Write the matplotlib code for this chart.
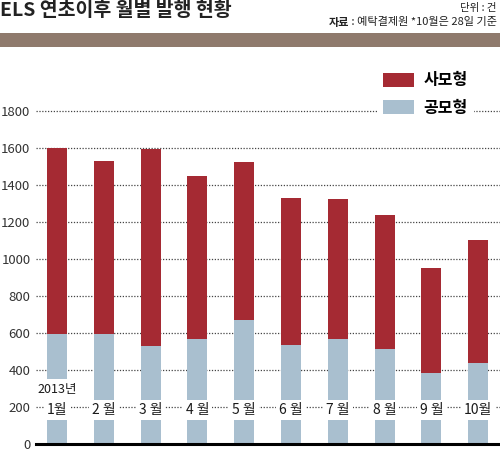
import matplotlib
matplotlib.use('Agg')
from matplotlib import pyplot as plt
from matplotlib.patches import Rectangle, Patch

plt.rcParams['font.family'] = ['Noto Sans CJK KR', 'DejaVu Sans']

# 데이터
months = ['1월', '2 월', '3 월', '4 월', '5 월', '6 월', '7 월', '8 월', '9 월', '10월']
total = [1600, 1530, 1595, 1450, 1525, 1330, 1325, 1240, 950, 1100]
public = [595, 595, 530, 567, 670, 535, 570, 512, 385, 440]
private = [t - p for t, p in zip(total, public)]
yticks = [0, 200, 400, 600, 800, 1000, 1200, 1400, 1600, 1800]

RED = '#a52a33'
BLUE = '#a9bfcf'
W, H = 500, 449

fig = plt.figure(figsize=(W / 100, H / 100), dpi=100)
fig.patch.set_facecolor('white')

# 축 위치 (픽셀 기준)
x0, x1, y0, y1 = 36, 500, 444, 111
ax = fig.add_axes([x0 / W, 1 - y0 / H, (x1 - x0) / W, (y0 - y1) / H])
step = 46.8
xmin = -(57 - x0) / step
ax.set_xlim(xmin, xmin + (x1 - x0) / step)
ax.set_ylim(0, 1800)

idx = list(range(len(months)))
ax.bar(idx, public, width=0.43, color=BLUE, zorder=2)
ax.bar(idx, private, bottom=public, width=0.43, color=RED, zorder=2)

ax.set_yticks(yticks)
ax.set_yticklabels([str(v) for v in yticks], fontsize=9.5, color='#333333')
ax.tick_params(axis='y', length=0, pad=4)
ax.set_xticks([])
for s in ax.spines.values():
    s.set_visible(False)
for v in yticks[1:]:
    ax.axhline(v, color='#444444', lw=0.9, ls=(0, (1, 1.3)), zorder=1, clip_on=False)
ax.axhline(0, color='black', lw=2.2, zorder=3, clip_on=False)

# 월 라벨
for i, m in enumerate(months):
    ax.text(i, 185, m, ha='center', va='center', fontsize=10, color='#1a1a1a', zorder=4,
            bbox=dict(facecolor='white', edgecolor='none', pad=2.2))
ax.text(0, 292, '2013년', ha='center', va='center', fontsize=9, color='#1a1a1a', zorder=4,
        bbox=dict(facecolor='white', edgecolor='none', pad=3))

handles = [Patch(facecolor=RED, label='사모형'), Patch(facecolor=BLUE, label='공모형')]
leg = fig.legend(handles=handles, loc='upper left', bbox_to_anchor=(369 / W, 1 - 58 / H),
                 frameon=True, prop=dict(size=11.5, weight='bold'), handlelength=1.9,
                 handleheight=1.0, labelspacing=0.7, handletextpad=0.6, borderpad=0.4,
                 fancybox=False)
leg.get_frame().set_facecolor('white')
leg.get_frame().set_edgecolor('none')
leg.get_frame().set_alpha(1)

# 헤더
fig.text(0 / W, 1 - 10.5 / H, 'ELS 연초이후 월별 발행 현황', ha='left', va='center',
         fontsize=14, fontweight='bold', color='#222222')
fig.text(497 / W, 1 - 8 / H, '단위 : 건', ha='right', va='center', fontsize=7.5, color='#222222')
src = fig.text(497 / W, 1 - 22.5 / H, ' : 예탁결제원 *10월은 28일 기준', ha='right', va='center',
               fontsize=8, color='#222222')
fig.add_artist(plt.Annotation('자료', xy=(0, 0.5), xycoords=src, ha='right', va='center',
                              fontsize=8, fontweight='bold', color='#222222'))
fig.patches.append(Rectangle((0, 1 - 47 / H), 1, 14 / H, transform=fig.transFigure,
                             facecolor='#8f7a6d', edgecolor='none'))

fig.savefig('out.png', dpi=100)
